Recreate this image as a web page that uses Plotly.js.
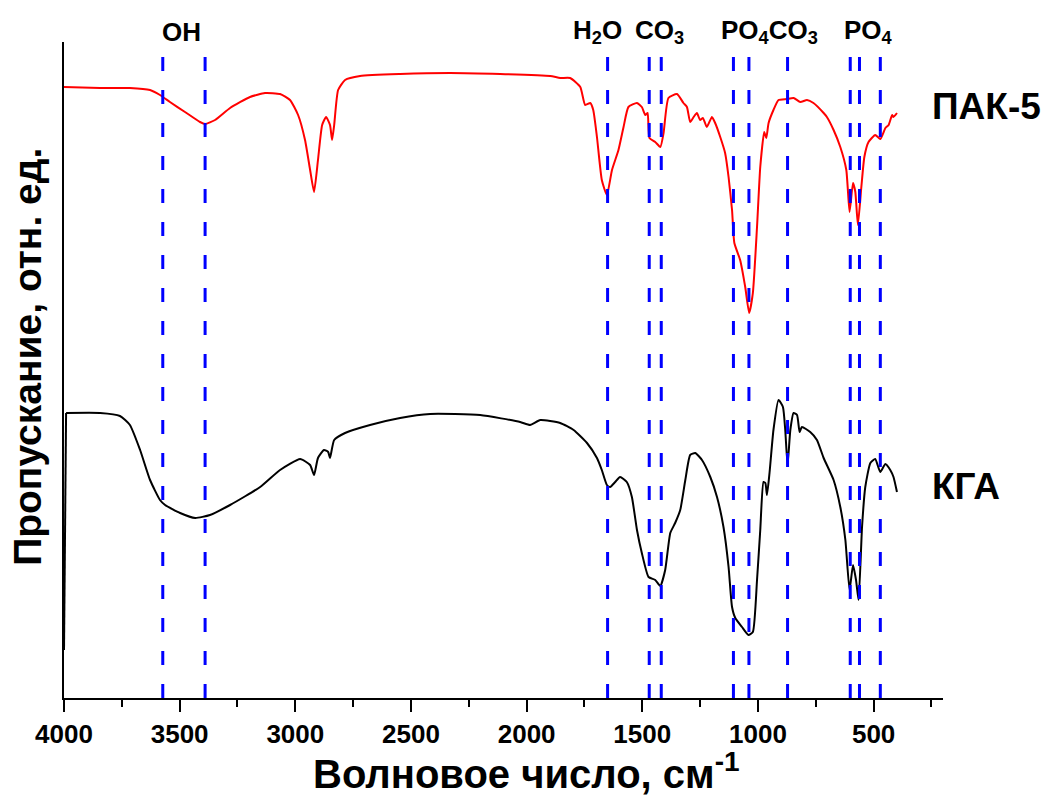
<!DOCTYPE html>
<html>
<head>
<meta charset="utf-8">
<script src="https://cdn.plot.ly/plotly-3.0.1.min.js"></script>
<style>html,body{margin:0;padding:0;background:#fff;}#chart{width:1042px;height:796px;}</style>
</head>
<body>
<div id="chart"></div>
<script>
// Wavenumbers (cm-1) and transmission (a.u.) for ПАК-5 (red)
const pakX = [4000,3844,3715,3628,3585,3542,3477,3412,3390,3347,3282,3196,3131,3066,3023,2988,2958,2936,2919,2902,2884,2867,2850,2841,2832,2815,2785,2720,2547,2331,2114,1898,1855,1812,1768,1747,1725,1712,1696,1675,1653,1631,1603,1581,1560,1523,1502,1487,1477,1469,1444,1422,1408,1387,1350,1322,1307,1293,1278,1264,1250,1238,1221,1199,1185,1163,1142,1127,1112,1102,1077,1055,1038,1022,1004,990,973,964,954,933,911,875,846,817,788,760,716,702,673,644,618,604,589,579,568,553,540,522,493,471,449,435,420,414,399];
const pakY = [611,610,610,608,603,596,586,576,574,578,590,601,605,604,598,583,558,528,506,538,573,581,573,558,573,608,618,622,624,625,624,622,620,620,611,593,595,588,561,518,503,528,548,571,591,595,591,583,585,560,556,551,565,600,604,595,591,576,581,585,578,580,571,581,575,561,545,521,488,455,438,411,385,405,471,531,566,560,575,588,598,599,600,596,598,595,585,581,568,551,528,486,515,506,473,511,541,556,563,559,570,573,583,581,585];
// Wavenumbers (cm-1) and transmission (a.u.) for КГА (black)
const kgaX = [4000,3991,3844,3758,3715,3671,3628,3585,3563,3498,3433,3369,3282,3152,3066,2979,2936,2919,2902,2876,2858,2850,2832,2785,2677,2547,2417,2201,2028,1985,1941,1855,1797,1739,1696,1675,1653,1639,1617,1596,1567,1545,1523,1502,1473,1444,1422,1401,1379,1358,1336,1314,1293,1271,1242,1206,1177,1149,1127,1112,1098,1069,1041,1022,1004,990,976,968,961,950,933,911,892,882,872,860,846,831,820,810,774,745,716,673,644,622,604,589,576,565,550,536,514,493,471,449,428,414,399];
const kgaY = [48,285,285,282,273,248,218,198,193,185,180,183,193,211,228,239,233,223,240,248,246,240,258,265,273,280,284,283,276,273,278,275,268,255,240,228,213,211,216,221,216,201,168,145,121,118,112,128,165,175,188,218,243,245,238,221,201,171,131,91,80,71,63,66,118,168,216,215,203,225,268,298,291,268,233,268,285,283,266,271,266,258,240,218,191,158,108,133,118,98,171,211,235,239,226,234,228,221,206];
// Band positions (cm-1) marked by dashed lines
const bandPositions = [3573,3390,1650,1470,1418,1106,1039,872,601,561,471];
// Band group labels and their positions (cm-1)
const bandLabels = ["OH","H<sub>2</sub>O","CO<sub>3</sub>","PO<sub>4</sub>CO<sub>3</sub>","PO<sub>4</sub>"];
const bandLabelX = [3491,1695,1425,949,523];
// Series names
const seriesNames = ["ПАК-5","КГА"];
const xTicks = [4000,3500,3000,2500,2000,1500,1000,500];
const xTitle = 'Волновое число, см<sup>-1</sup>';
const yTitle = 'Пропускание, отн. ед.';

const FONT = "Liberation Sans, Arial, sans-serif";

const traces = [
  {x: pakX, y: pakY, type: 'scatter', mode: 'lines', name: seriesNames[0], line: {color: '#ff0000', width: 2, shape: 'spline', smoothing: 0.5}, hoverinfo: 'skip'},
  // leading vertical step of the КГА record, drawn straight
  {x: kgaX.slice(0, 2), y: kgaY.slice(0, 2), type: 'scatter', mode: 'lines', name: seriesNames[1], showlegend: false, line: {color: '#000000', width: 2}, hoverinfo: 'skip'},
  {x: kgaX.slice(1), y: kgaY.slice(1), type: 'scatter', mode: 'lines', name: seriesNames[1], line: {color: '#000000', width: 2, shape: 'spline', smoothing: 0.5}, hoverinfo: 'skip'}
];

const shapes = bandPositions.map(v => ({
  type: 'line', xref: 'x', yref: 'paper', x0: v, x1: v, y0: 0, y1: 1,
  line: {color: '#0000ff', width: 3, dash: '14px,19px'}
}));

const annotations = [];
bandLabels.forEach((t, i) => annotations.push({
  text: t, xref: 'x', yref: 'paper', x: bandLabelX[i], y: 1.016, yanchor: 'middle', xanchor: 'center',
  showarrow: false, font: {family: FONT, size: 26, color: '#000', weight: 'bold'}
}));
annotations.push({text: seriesNames[0], xref: 'paper', yref: 'paper', x: 0.9855, y: 0.901, xanchor: 'left', yanchor: 'middle', showarrow: false, font: {family: FONT, size: 37, color: '#000', weight: 'bold'}});
annotations.push({text: seriesNames[1], xref: 'paper', yref: 'paper', x: 0.9855, y: 0.323, xanchor: 'left', yanchor: 'middle', showarrow: false, font: {family: FONT, size: 37, color: '#000', weight: 'bold'}});
// axis titles
annotations.push({text: xTitle, xref: 'paper', yref: 'paper', x: 0.5258, y: -0.111, xanchor: 'center', yanchor: 'middle', showarrow: false, font: {family: FONT, size: 40, color: '#000', weight: 'bold'}});
annotations.push({text: yTitle, xref: 'paper', yref: 'paper', x: -0.041, y: 0.52, xanchor: 'center', yanchor: 'middle', textangle: -90, showarrow: false, font: {family: FONT, size: 39, color: '#000', weight: 'bold'}});

const layout = {
  width: 1042, height: 796,
  margin: {l: 64, r: 99, t: 42, b: 98},
  paper_bgcolor: '#fff', plot_bgcolor: '#fff',
  showlegend: false,
  xaxis: {
    range: [4000, 200], tickvals: xTicks, ticktext: xTicks.map(String),
    ticks: 'outside', ticklen: 12, tickwidth: 2, tickcolor: '#000',
    minor: {ticks: 'outside', ticklen: 7, tickwidth: 2, tickcolor: '#000', dtick: 250, tick0: 0, showgrid: false},
    showline: true, linecolor: '#000', linewidth: 2, showgrid: false, zeroline: false,
    tickfont: {family: FONT, size: 26, color: '#000', weight: 'bold'}
  },
  yaxis: {
    range: [0, 656], showticklabels: false, ticks: '', showline: true, linecolor: '#000', linewidth: 2,
    showgrid: false, zeroline: false
  },
  shapes: shapes,
  annotations: annotations
};

Plotly.newPlot('chart', traces, layout, {displayModeBar: false, staticPlot: true});
</script>
</body>
</html>
